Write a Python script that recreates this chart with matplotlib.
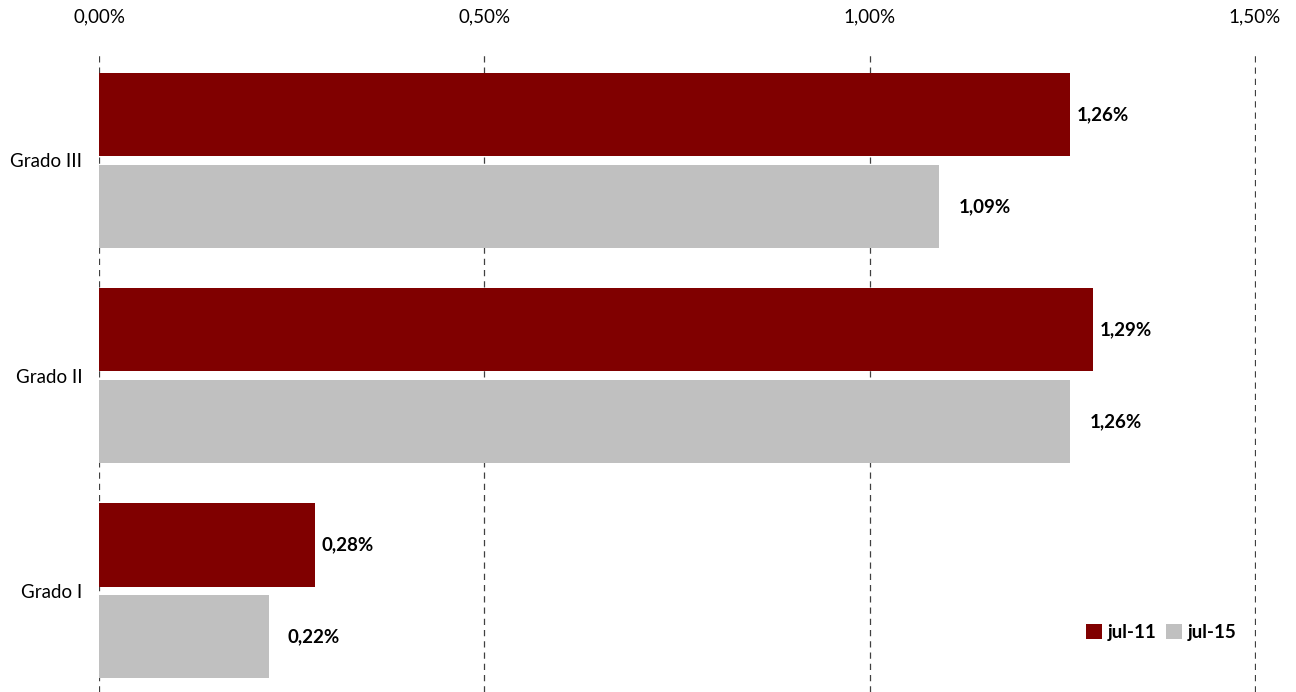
import matplotlib
matplotlib.use("Agg")
import matplotlib.pyplot as plt
import numpy as np

# datos
categorias = ['Grado I', 'Grado II', 'Grado III']
jul_11 = [0.28, 1.29, 1.26]
jul_15 = [0.22, 1.26, 1.09]
series = ['jul-11', 'jul-15']
colores = ['#800000', '#C0C0C0']
xticks = [0.0, 0.5, 1.0, 1.5]

plt.rcParams['font.family'] = ['Lato', 'DejaVu Sans']

fig = plt.figure(figsize=(12.96, 6.92), dpi=100)
ax = fig.add_axes([0.0764, 0.0, 0.8926, 0.9205])

y = np.arange(len(categorias))
h = 0.386
off = 0.213

b1 = ax.barh(y + off, jul_11, height=h, color=colores[0], label=series[0], zorder=2)
b2 = ax.barh(y - off, jul_15, height=h, color=colores[1], label=series[1], zorder=2)

def fmt(v):
    return f'{v:.2f}%'.replace('.', ',')

for rect, v in zip(b1, jul_11):
    ax.annotate(fmt(v), (rect.get_width(), rect.get_y() + rect.get_height() / 2),
                xytext=(5, 0), textcoords='offset points', va='center', ha='left',
                fontsize=13.5, fontweight='bold', color='black')
for rect, v in zip(b2, jul_15):
    ax.annotate(fmt(v), (rect.get_width(), rect.get_y() + rect.get_height() / 2),
                xytext=(14, 0), textcoords='offset points', va='center', ha='left',
                fontsize=13.5, fontweight='bold', color='black')

ax.set_xlim(0, 1.5013)
ax.set_ylim(-0.47, 2.49)
ax.set_xticks(xticks)
ax.set_xticklabels([f'{t:.2f}%'.replace('.', ',') for t in xticks])
ax.xaxis.tick_top()
ax.set_yticks(y)
ax.set_yticklabels(categorias)
ax.tick_params(axis='x', length=0, pad=21, labelsize=13.5, colors='black')
ax.tick_params(axis='y', length=0, pad=12, labelsize=13.5, colors='black')

for s in ax.spines.values():
    s.set_visible(False)
ax.grid(axis='x', linestyle=(0, (5, 4)), color='#404040', linewidth=0.9, zorder=0)
ax.set_axisbelow(True)

ax.legend(loc='center', bbox_to_anchor=(0.918, 0.093), ncol=2, frameon=False,
          handlelength=0.85, handleheight=0.85, handletextpad=0.3, columnspacing=0.5,
          prop={'weight': 'bold', 'size': 13.5})

fig.savefig('out.png', dpi=100)
